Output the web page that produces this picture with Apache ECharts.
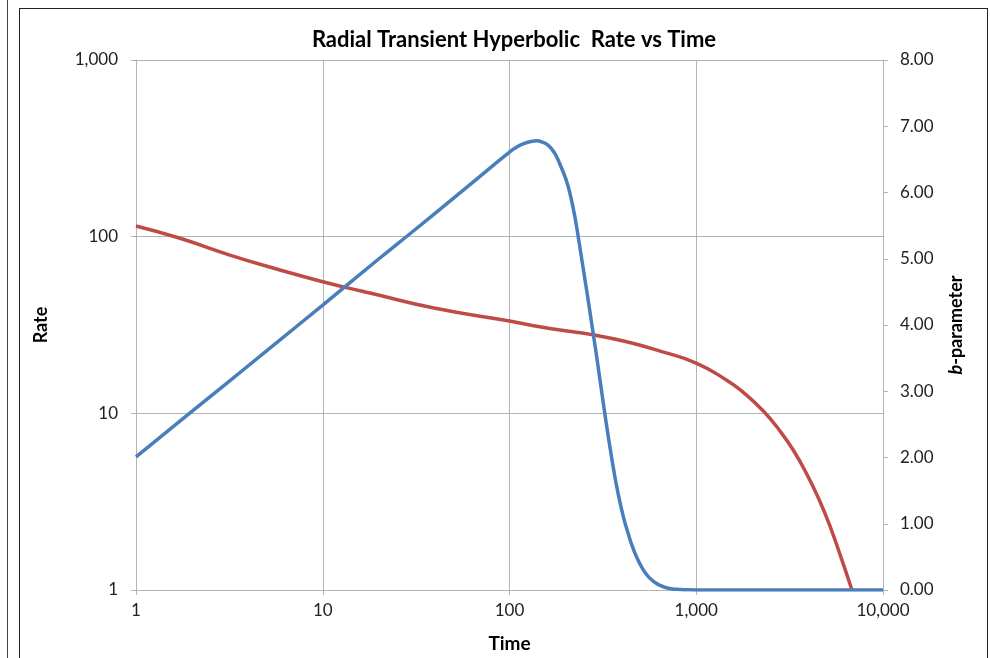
<!DOCTYPE html>
<html>
<head>
<meta charset="utf-8">
<script src="https://cdn.jsdelivr.net/npm/echarts@6/dist/echarts.min.js"></script>
<style>
html,body{margin:0;padding:0;background:#fff;}
#chart{width:990px;height:658px;}
</style>
</head>
<body>
<div id="chart"></div>
<script>
// Rate series (left log axis)
var rateTime  = [1, 1.72, 3.18, 5.9, 10, 15.8, 17.9, 40, 100, 145, 186, 281, 424, 640, 1005, 1456, 1786, 2286, 2808, 3311, 3900, 4600, 5202, 5885, 6820];
var rateValue = [114.9, 97.9, 78.7, 64.8, 55.6, 49.4, 48.0, 39.3, 33.3, 30.9, 29.6, 27.8, 25.4, 22.5, 19.2, 15.4, 13.15, 10.3, 7.94, 6.18, 4.55, 3.16, 2.30, 1.59, 1.0];

// b-parameter series (right linear axis)
var bTime  = [1, 2, 3, 5, 10, 20, 30, 50, 70, 100, 110, 120, 130, 140, 150, 160, 170, 178, 186, 200, 211, 224, 237, 254, 264, 281, 293, 318, 340, 360, 380, 406, 430, 460, 500, 543, 590, 640, 700, 785, 900, 1000, 2000, 5000, 10000];
var bValue = [2.01, 2.70, 3.10, 3.61, 4.30, 5.00, 5.40, 5.91, 6.25, 6.61, 6.69, 6.74, 6.77, 6.78, 6.76, 6.72, 6.64, 6.55, 6.43, 6.21, 5.98, 5.63, 5.21, 4.67, 4.37, 3.86, 3.52, 2.82, 2.27, 1.84, 1.48, 1.12, 0.87, 0.62, 0.39, 0.23, 0.13, 0.07, 0.03, 0.01, 0.002, 0, 0, 0, 0];

var title = 'Radial Transient Hyperbolic  Rate vs Time';
var xName = 'Time';
var yLeftName = 'Rate';
var yRightName = '{i|b}-parameter';

function zip(a, b) { return a.map(function (v, i) { return [v, b[i]]; }); }
function fmtThousands(v) { return Math.round(v).toLocaleString('en-US'); }

var FONT = 'Lato';
var gridColor = '#b4b4b4';
var chart = echarts.init(document.getElementById('chart'), null, {renderer: 'canvas'});
chart.setOption({
  backgroundColor: '#fff',
  animation: false,
  title: {
    text: title, left: 509, top: 24, textAlign: 'center',
    textStyle: {fontFamily: FONT, fontWeight: 'bold', fontSize: 22, color: '#000'}
  },
  grid: {left: 136, right: 107, top: 60, bottom: 68, containLabel: false},
  xAxis: {
    type: 'log', logBase: 10, min: 1, max: 10000,
    name: xName, nameLocation: 'middle', nameGap: 44,
    nameTextStyle: {fontFamily: FONT, fontWeight: 'bold', fontSize: 19, color: '#000'},
    axisLine: {show: true, lineStyle: {color: gridColor, width: 1}},
    axisTick: {show: true, length: 5, lineStyle: {color: gridColor}},
    minorTick: {show: false},
    splitLine: {show: true, lineStyle: {color: gridColor, width: 1}},
    axisLabel: {fontFamily: FONT, fontSize: 17, color: '#222', margin: 12, formatter: fmtThousands}
  },
  yAxis: [{
    type: 'log', logBase: 10, min: 1, max: 1000,
    name: yLeftName, nameLocation: 'middle', nameGap: 86, nameRotate: 90,
    nameTextStyle: {fontFamily: FONT, fontWeight: 'bold', fontSize: 18, color: '#000'},
    axisLine: {show: true, lineStyle: {color: gridColor, width: 1}},
    axisTick: {show: true, length: 5, lineStyle: {color: gridColor}},
    splitLine: {show: true, lineStyle: {color: gridColor, width: 1}},
    axisLabel: {fontFamily: FONT, fontSize: 17, color: '#222', margin: 18, formatter: fmtThousands}
  }, {
    type: 'value', min: 0, max: 8, interval: 1, position: 'right',
    name: yRightName, nameLocation: 'middle', nameGap: 64, nameRotate: 90,
    nameTextStyle: {fontFamily: FONT, fontWeight: 'bold', fontSize: 18, color: '#000',
      rich: {i: {fontFamily: FONT, fontWeight: 'bold', fontStyle: 'italic', fontSize: 18, color: '#000'}}},
    axisLine: {show: true, lineStyle: {color: gridColor, width: 1}},
    axisTick: {show: true, length: 5, lineStyle: {color: gridColor}},
    splitLine: {show: false},
    axisLabel: {fontFamily: FONT, fontSize: 17, color: '#222', margin: 17, formatter: function (v) { return v.toFixed(2); }}
  }],
  series: [{
    name: 'Rate', type: 'line', yAxisIndex: 0, data: zip(rateTime, rateValue),
    showSymbol: false, smooth: 0.5, lineStyle: {color: '#BE4B48', width: 3.5}, itemStyle: {color: '#BE4B48'}
  }, {
    name: 'b', type: 'line', yAxisIndex: 1, data: zip(bTime, bValue),
    showSymbol: false, smooth: 0.5, lineStyle: {color: '#4A7EBB', width: 3.5}, itemStyle: {color: '#4A7EBB'}
  }],
  graphic: [
    {type: 'line', shape: {x1: 7.5, y1: 0, x2: 7.5, y2: 658}, style: {stroke: '#444', lineWidth: 1}, silent: true},
    {type: 'line', shape: {x1: 19.5, y1: 8, x2: 19.5, y2: 658}, style: {stroke: '#222', lineWidth: 1}, silent: true},
    {type: 'line', shape: {x1: 19, y1: 8.5, x2: 987, y2: 8.5}, style: {stroke: '#222', lineWidth: 1}, silent: true},
    {type: 'line', shape: {x1: 987.5, y1: 8, x2: 987.5, y2: 658}, style: {stroke: '#222', lineWidth: 1}, silent: true}
  ]
});
</script>
</body>
</html>
